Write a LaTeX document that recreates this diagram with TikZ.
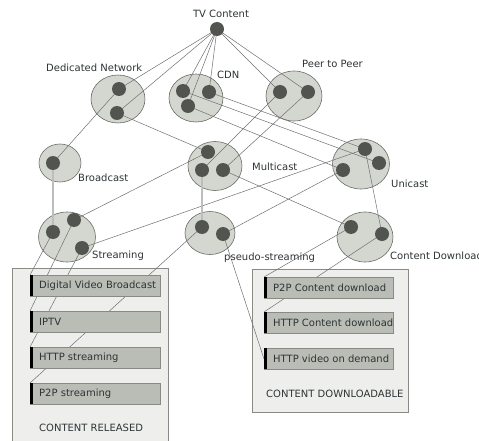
\documentclass[tikz,border=0pt]{standalone}
\usepackage{fontspec}
\setmainfont{DejaVu Sans}
\usetikzlibrary{shapes.geometric}
\definecolor{ellfill}{HTML}{D3D7CF}
\definecolor{elldraw}{HTML}{6A6C67}
\definecolor{dotc}{HTML}{52544F}
\definecolor{linec}{HTML}{707070}
\definecolor{lightline}{HTML}{BDBDBD}
\definecolor{itemfill}{HTML}{BABDB6}
\definecolor{itemdraw}{HTML}{888A85}
\definecolor{outerfill}{HTML}{EEEEEC}
\definecolor{txtc}{HTML}{2E3436}
\pgfdeclarelayer{bg}
\pgfdeclarelayer{lines}
\pgfsetlayers{bg,lines,main}
\tikzset{
  grp/.style={ellipse, draw=elldraw, fill=ellfill, line width=0.6pt, inner sep=0pt},
  dotn/.style={circle, fill=dotc, minimum size=14pt, inner sep=0pt},
  lnk/.style={draw=linec, line width=0.5pt},
  lightlnk/.style={draw=lightline, line width=1.3pt},
  outerbox/.style={draw=itemdraw, fill=outerfill, line width=0.7pt},
  itembox/.style={draw=itemdraw, fill=itemfill, line width=0.8pt, minimum width=130pt, minimum height=21pt, inner sep=0pt},
  ibar/.style={fill=black, minimum width=3pt, minimum height=21pt, inner sep=0pt},
  lbl/.style={anchor=west, inner sep=0pt, text=txtc, font=\fontsize{10}{12}\selectfont},
}
\begin{document}
\begin{tikzpicture}[x=1pt,y=-1pt]
\useasboundingbox (0,0) rectangle (479,441);

% outer boxes and group ellipses
\begin{pgfonlayer}{bg}
\fill[white] (0,0) rectangle (479,441);
\node[outerbox, anchor=north west, minimum width=156pt, minimum height=180pt, inner sep=0pt] (rel) at (12,268) {};
\node[outerbox, anchor=north west, minimum width=156pt, minimum height=143pt, inner sep=0pt] (dl) at (252,269) {};
\node[grp, minimum width=54pt, minimum height=48pt] (DN) at (118,99) {};
\node[grp, minimum width=54pt, minimum height=48pt] (CDN) at (196,98) {};
\node[grp, minimum width=56pt, minimum height=50pt] (PP) at (294,96) {};
\node[grp, minimum width=42pt, minimum height=38pt] (BC) at (60,163) {};
\node[grp, minimum width=54pt, minimum height=49pt] (MC) at (215,166) {};
\node[grp, minimum width=57pt, minimum height=50pt] (UC) at (361,164) {};
\node[grp, minimum width=57pt, minimum height=50pt] (ST) at (67,237) {};
\node[grp, minimum width=50pt, minimum height=43pt] (PS) at (210,233) {};
\node[grp, minimum width=56pt, minimum height=50pt] (CD) at (365,237) {};
\end{pgfonlayer}

% dots
\node[dotn] (tv) at (217,29) {};
\node[dotn] (dn1) at (119,89) {};
\node[dotn] (dn2) at (117,113) {};
\node[dotn] (cdn1) at (183,91) {};
\node[dotn] (cdn2) at (209,92) {};
\node[dotn] (cdn3) at (188,106) {};
\node[dotn] (pp1) at (280,92) {};
\node[dotn] (pp2) at (308,92) {};
\node[dotn] (bc1) at (53,163) {};
\node[dotn] (mc1) at (208,152) {};
\node[dotn] (mc2) at (202,170) {};
\node[dotn] (mc3) at (223,170) {};
\node[dotn] (uc1) at (365,149) {};
\node[dotn] (uc2) at (379,163) {};
\node[dotn] (uc3) at (343,170) {};
\node[dotn] (st1) at (53,232) {};
\node[dotn] (st2) at (74,220) {};
\node[dotn] (st3) at (82,248) {};
\node[dotn] (ps1) at (202,227) {};
\node[dotn] (ps2) at (223,234) {};
\node[dotn] (cd1) at (351,227) {};
\node[dotn] (cd2) at (382,234) {};

% items
\node[itembox, anchor=north west] (dvb) at (30,275) {};
\node[lbl] at (39,286) {Digital Video Broadcast};
\node[itembox, anchor=north west] (iptv) at (30,311) {};
\node[lbl] at (39,322) {IPTV};
\node[itembox, anchor=north west] (hst) at (30,347) {};
\node[lbl] at (39,358) {HTTP streaming};
\node[itembox, anchor=north west] (pst) at (30,383) {};
\node[lbl] at (39,394) {P2P streaming};
\node[itembox, anchor=north west, minimum width=129pt] (pcd) at (264,277) {};
\node[lbl] at (273,288) {P2P Content download};
\node[itembox, anchor=north west, minimum width=129pt] (hcd) at (264,312) {};
\node[lbl] at (273,323) {HTTP Content download};
\node[itembox, anchor=north west, minimum width=129pt] (vod) at (264,348) {};
\node[lbl] at (273,359) {HTTP video on demand};
\foreach \b in {dvb,iptv,hst,pst,pcd,hcd,vod}{
  \node[ibar, anchor=north west] at (\b.north west) {};
}

% connectors
\begin{pgfonlayer}{lines}
\foreach \t in {dn1,dn2,cdn1,cdn2,cdn3,pp1,pp2}{
  \draw[lnk] (tv.center) -- (\t.center);
}
\draw[lnk] (dn1.center) -- (bc1.center);
\draw[lightlnk] (bc1.center) -- (st1.center);
\draw[lnk] (st1.center) -- (dvb.north west);
\draw[lnk] (dn2.center) -- (mc1.center);
\draw[lnk] (mc1.center) -- (st2.center);
\draw[lnk] (st2.center) -- (iptv.north west);
\draw[lnk] (cdn1.center) -- (uc2.center);
\draw[lnk] (cdn2.center) -- (uc1.center);
\draw[lnk] (cdn3.center) -- (uc3.center);
\draw[lnk] (uc1.center) -- (st3.center);
\draw[lnk] (st3.center) -- (hst.north west);
\draw[lnk] (uc1.center) -- (cd2.center);
\draw[lnk] (cd2.center) -- (hcd.north west);
\draw[lnk] (uc3.center) -- (ps2.center);
\draw[lnk] (ps2.center) -- (vod.west);
\draw[lnk] (pp1.center) -- (mc2.center);
\draw[lightlnk] (mc2.center) -- (ps1.center);
\draw[lnk] (ps1.center) -- (pst.north west);
\draw[lnk] (pp2.center) -- (mc3.center);
\draw[lnk] (mc3.center) -- (cd1.center);
\draw[lnk] (cd1.center) -- (pcd.north west);
\end{pgfonlayer}

% labels
\node[lbl, anchor=center] (ltv) at (221,14) {TV Content};
\node[lbl] (ldn) at (46,68) {Dedicated Network};
\node[lbl] (lcdn) at (217,75) {CDN};
\node[lbl] (lpp) at (302,64) {Peer to Peer};
\node[lbl] (lbc) at (78,178) {Broadcast};
\node[lbl] (lmc) at (252,167) {Multicast};
\node[lbl] (luc) at (391,184) {Unicast};
\node[lbl] (lst) at (92,256) {Streaming};
\node[lbl] (lps) at (224,258) {pseudo-streaming};
\node[lbl] (lcd) at (390,256) {Content Download};
\node[lbl] (lrel) at (39,428) {CONTENT RELEASED};
\node[lbl] (ldl) at (266,394) {CONTENT DOWNLOADABLE};
\end{tikzpicture}
\end{document}
